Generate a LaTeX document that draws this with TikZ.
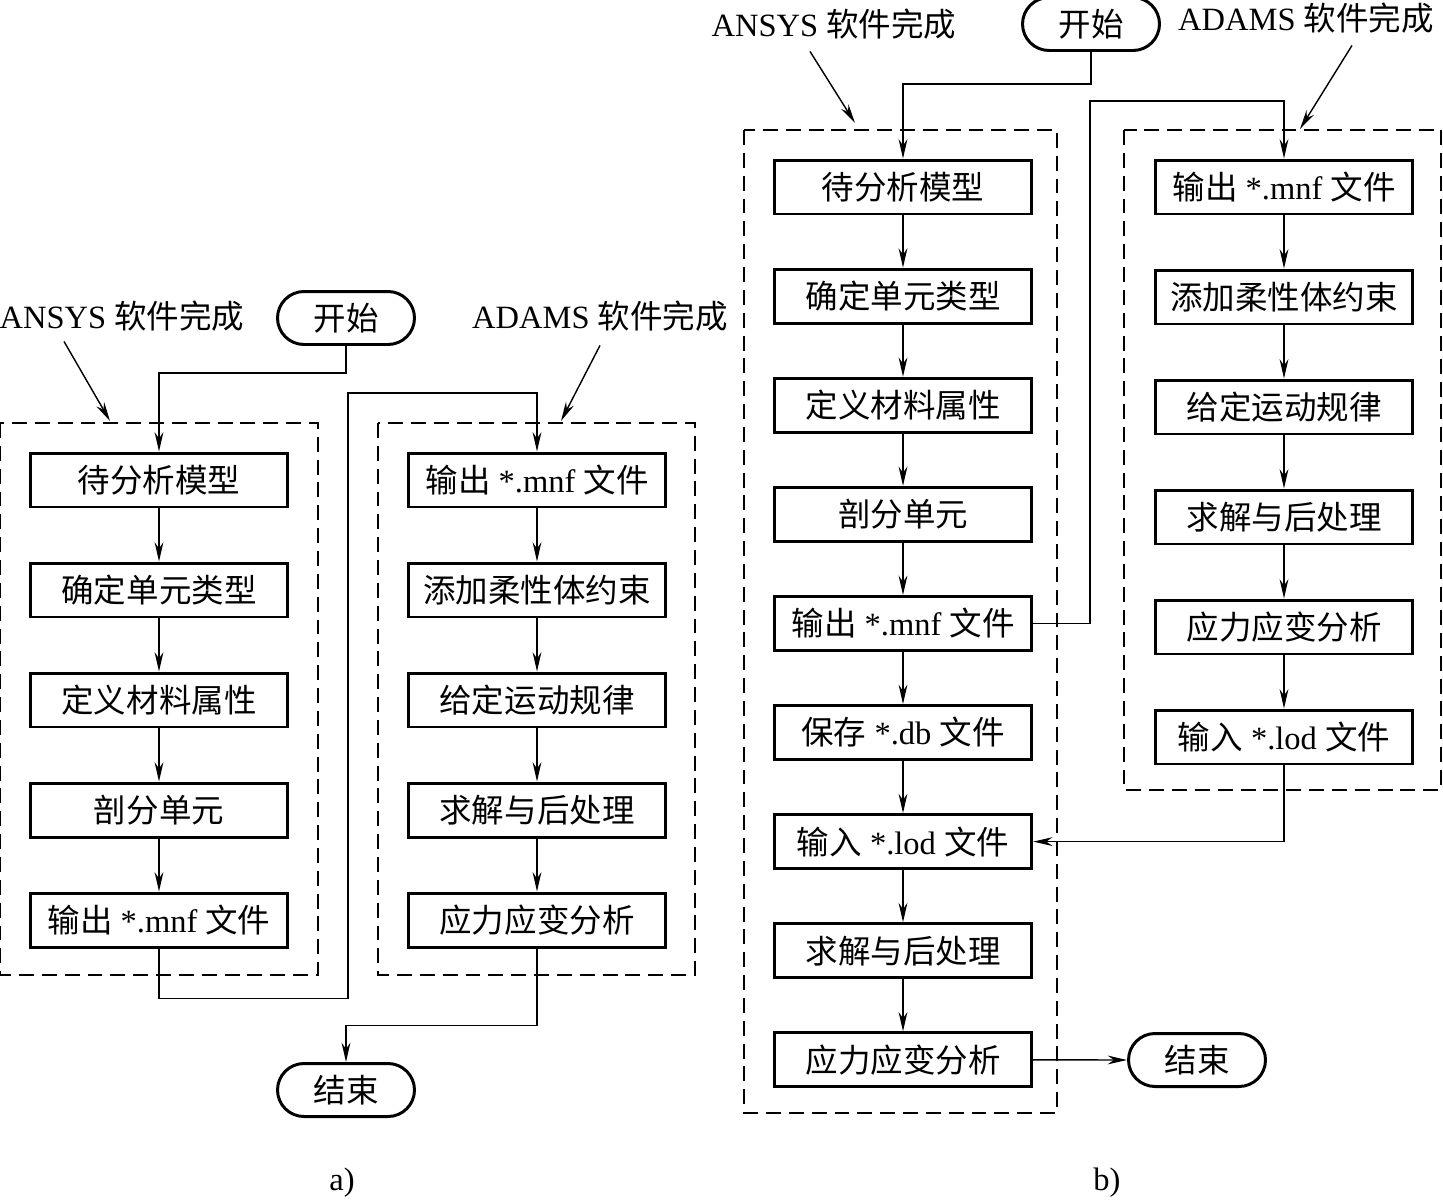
\documentclass[tikz,border=0pt]{standalone}
\usepackage{fontspec}
\setmainfont{Liberation Serif}
\newfontfamily\cjk{Noto Sans CJK SC}
\usetikzlibrary{arrows.meta, shapes.misc}

\newcommand{\zh}[1]{{\cjk #1}}

\begin{document}
\begin{tikzpicture}[x=0.02cm, y=-0.02cm, font=\fontsize{18.5}{20}\selectfont,
    >={Stealth[length=11pt, width=5pt]},
    stepbox/.style={draw, line width=1.7pt, minimum width=5.15cm, minimum height=1.08cm, inner sep=0pt},
    termbox/.style={draw, rounded rectangle, line width=1.7pt, minimum width=2.74cm, minimum height=1.06cm, inner sep=0pt},
    link/.style={line width=0.8pt},
    group/.style={line width=0.8pt, dash pattern=on 8.5pt off 4.5pt}]
    \useasboundingbox (0,0) rectangle (1443,1200);

    % a) ANSYS 与 ADAMS 分开完成
    \draw[group] (0,423) rectangle (318,975);
    \draw[group] (378,423) rectangle (695,975);
    \node[termbox] (startA) at (346,318) {\zh{开始}};
    \node[termbox] (endA) at (346,1090) {\zh{结束}};
    \node (ansysA) at (122,316) {ANSYS \zh{软件完成}};
    \node (adamsA) at (600,316) {ADAMS \zh{软件完成}};
    \foreach \t [count=\i] in {\zh{待分析模型}, \zh{确定单元类型}, \zh{定义材料属性}, \zh{剖分单元}, {\zh{输出} *.mnf \zh{文件}}}
        \node[stepbox] (a\i) at (159,{480+110*(\i-1)}) {\t};
    \foreach \t [count=\i] in {{\zh{输出} *.mnf \zh{文件}}, \zh{添加柔性体约束}, \zh{给定运动规律}, \zh{求解与后处理}, \zh{应力应变分析}}
        \node[stepbox] (b\i) at (537,{480+110*(\i-1)}) {\t};
    \foreach \i/\j in {1/2, 2/3, 3/4, 4/5} {
        \draw[link, ->] (a\i) -- (a\j);
        \draw[link, ->] (b\i) -- (b\j);
    }
    \draw[link, ->] (startA.south) -- ++(0,27) -| (a1.north);
    \draw[link, ->] (a5.south) -- ++(0,50) -| (348,393) -| (b1.north);
    \draw[link, ->] (b5.south) -- ++(0,77) -| (endA.north);
    \coordinate (ansysAtip) at (110,421);
    \coordinate (adamsAtip) at (561,421);
    \draw[link, ->] (ansysA.south) ++(-58,4) -- (ansysAtip);
    \draw[link, ->] (adamsA.south) ++(0,8) -- (adamsAtip);
    \node (capA) at (342,1183) {a)};

    % b) 由 ADAMS 返回 ANSYS 求解
    \draw[group] (744,130) rectangle (1057,1113);
    \draw[group] (1124,130) rectangle (1441,790);
    \node[termbox] (startB) at (1091,24) {\zh{开始}};
    \node[termbox] (endB) at (1197,1060) {\zh{结束}};
    \node (ansysB) at (834,24) {ANSYS \zh{软件完成}};
    \node (adamsB) at (1306,18) {ADAMS \zh{软件完成}};
    \foreach \t [count=\i] in {\zh{待分析模型}, \zh{确定单元类型}, \zh{定义材料属性}, \zh{剖分单元}, {\zh{输出} *.mnf \zh{文件}}, {\zh{保存} *.db \zh{文件}}, {\zh{输入} *.lod \zh{文件}}, \zh{求解与后处理}, \zh{应力应变分析}}
        \node[stepbox] (c\i) at (903,{187+109.1*(\i-1)}) {\t};
    \foreach \t [count=\i] in {{\zh{输出} *.mnf \zh{文件}}, \zh{添加柔性体约束}, \zh{给定运动规律}, \zh{求解与后处理}, \zh{应力应变分析}, {\zh{输入} *.lod \zh{文件}}}
        \node[stepbox] (d\i) at (1284,{187+110*(\i-1)}) {\t};
    \foreach \i/\j in {1/2, 2/3, 3/4, 4/5, 5/6, 6/7, 7/8, 8/9}
        \draw[link, ->] (c\i) -- (c\j);
    \foreach \i/\j in {1/2, 2/3, 3/4, 4/5, 5/6}
        \draw[link, ->] (d\i) -- (d\j);
    \draw[link, ->] (startB.south) -- ++(0,32) -| (c1.north);
    \draw[link, ->] (c5.east) -| (1090,101) -| (d1.north);
    \draw[link, ->] (d6.south) |- (c7.east);
    \draw[link, ->] (c9.east) -- (endB.west);
    \coordinate (ansysBtip) at (855,123);
    \coordinate (adamsBtip) at (1300,129);
    \draw[link, ->] (ansysB.south) ++(-24,6) -- (ansysBtip);
    \draw[link, ->] (adamsB.south) ++(46,6) -- (adamsBtip);
    \node (capB) at (1107,1183) {b)};
\end{tikzpicture}
\end{document}
